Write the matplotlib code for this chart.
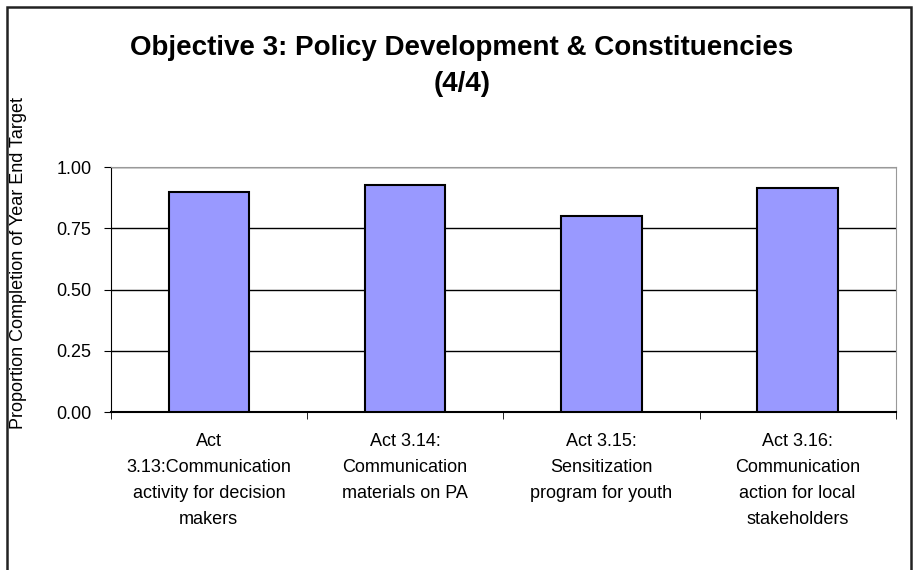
import numpy as np
import matplotlib.pyplot as plt
from matplotlib.patches import Rectangle

plt.rcParams['font.family'] = ['Liberation Sans', 'DejaVu Sans']

categories = ['Act\n3.13:Communication\nactivity for decision\nmakers',
              'Act 3.14:\nCommunication\nmaterials on PA',
              'Act 3.15:\nSensitization\nprogram for youth',
              'Act 3.16:\nCommunication\naction for local\nstakeholders']
values = [0.90, 0.925, 0.80, 0.915]
yticks = [0.0, 0.25, 0.5, 0.75, 1.0]

fig = plt.figure(figsize=(9.15, 5.7), dpi=100)
ax = fig.add_axes([0.121, 0.277, 0.858, 0.43])

x = np.arange(len(categories))
ax.bar(x, values, width=0.41, color='#9999FF', edgecolor='black', linewidth=1.5, zorder=3)

ax.set_xlim(-0.5, len(categories) - 0.5)
ax.set_ylim(0, 1)
ax.set_yticks(yticks)
ax.set_yticklabels(['%.2f' % v for v in yticks], fontsize=13)
ax.yaxis.grid(True, color='black', linewidth=1)
ax.set_axisbelow(True)

ax.set_xticks(x)
ax.set_xticklabels(categories, fontsize=13, linespacing=1.7)
ax.set_xticks(np.arange(len(categories) + 1) - 0.5, minor=True)
ax.tick_params(axis='x', which='major', length=0, pad=15)
ax.tick_params(axis='x', which='minor', length=5, direction='out', color='black')
ax.tick_params(axis='y', length=5, direction='out', pad=9)

ax.spines['left'].set_color('black')
ax.spines['bottom'].set_color('black')
ax.spines['bottom'].set_linewidth(1.5)
ax.spines['top'].set_color('#999999')
ax.spines['right'].set_color('#999999')

ax.set_ylabel('Proportion Completion of Year End Target', fontsize=13)
ax.yaxis.set_label_coords(-0.106, 0.61)

fig.text(0.505, 0.884, 'Objective 3: Policy Development & Constituencies\n(4/4)',
         ha='center', va='center', fontsize=20, fontweight='bold', linespacing=1.5)

fig.patches.append(Rectangle((7 / 915, -0.1), 904 / 915, 1.1 - 7 / 570, transform=fig.transFigure,
                             fill=False, edgecolor='#222222', linewidth=1.8))

fig.savefig('out.png', dpi=100)
